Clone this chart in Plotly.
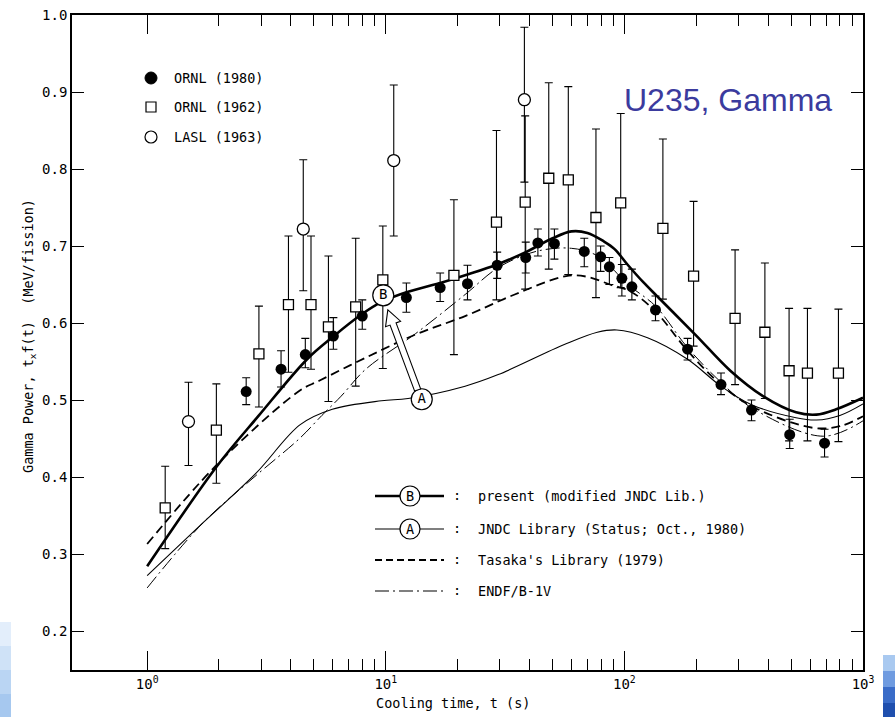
import math
import plotly.graph_objects as go

# ---------------- data ----------------
# ORNL (1980) - filled circles
ornl80_t = [2.60, 3.64, 4.60, 6.03, 7.97, 12.2, 16.9, 22.0, 29.3, 38.6, 43.4, 50.9,
            67.9, 79.5, 86.5, 97.6, 107.5, 135, 184, 254, 341, 493, 690]
ornl80_v = [0.511, 0.540, 0.559, 0.583, 0.609, 0.633, 0.646, 0.651, 0.675, 0.685, 0.704, 0.703,
            0.693, 0.686, 0.673, 0.658, 0.647, 0.617, 0.566, 0.520, 0.487, 0.455, 0.444]
ornl80_hi = [0.529, 0.564, 0.580, 0.607, 0.630, 0.652, 0.665, 0.675, 0.692, 0.705, 0.722, 0.722,
             0.710, 0.700, 0.685, 0.676, 0.670, 0.635, 0.580, 0.535, 0.500, 0.475, 0.462]
ornl80_lo = [0.494, 0.517, 0.542, 0.566, 0.592, 0.614, 0.628, 0.630, 0.658, 0.665, 0.687, 0.683,
             0.673, 0.667, 0.650, 0.635, 0.630, 0.603, 0.552, 0.507, 0.473, 0.437, 0.426]

# ORNL (1962) - open squares
ornl62_t = [1.19, 1.95, 2.94, 3.91, 4.86, 5.75, 7.48, 9.72, 19.3, 29.1, 38.4, 48.2,
            58.2, 76.0, 96.5, 145, 195, 291, 388, 490, 585, 789]
ornl62_v = [0.360, 0.461, 0.560, 0.624, 0.624, 0.595, 0.621, 0.656, 0.662, 0.731, 0.757, 0.788,
            0.786, 0.737, 0.756, 0.723, 0.661, 0.606, 0.588, 0.538, 0.535, 0.535]
ornl62_hi = [0.414, 0.521, 0.622, 0.713, 0.713, 0.687, 0.710, 0.726, 0.760, 0.850, 0.869, 0.912,
             0.907, 0.852, 0.872, 0.839, 0.758, 0.695, 0.678, 0.619, 0.619, 0.618]
ornl62_lo = [0.307, 0.392, 0.491, 0.536, 0.540, 0.498, 0.518, 0.541, 0.559, 0.630, 0.644, 0.670,
             0.663, 0.633, 0.646, 0.631, 0.570, 0.520, 0.502, 0.447, 0.447, 0.446]

# LASL (1963) - open circles
lasl_t = [1.49, 4.51, 10.8, 38.1]
lasl_v = [0.472, 0.722, 0.811, 0.890]
lasl_hi = [0.523, 0.812, 0.909, 0.984]
lasl_lo = [0.415, 0.642, 0.713, 0.783]

# (B) present (modified JNDC Lib.)
curveB_t = [1, 1.96, 2.94, 4.68, 6.0, 7.9, 9.7, 12.2, 16.9, 22, 29.3, 38.6, 50, 60, 70, 82,
            91, 103, 120, 137, 160, 201, 278, 381, 524, 638, 772, 1000]
curveB_v = [0.284, 0.414, 0.480, 0.553, 0.582, 0.611, 0.628, 0.640, 0.652, 0.663, 0.676, 0.692,
            0.710, 0.719, 0.717, 0.706, 0.696, 0.676, 0.653, 0.635, 0.614, 0.583, 0.538, 0.505,
            0.484, 0.481, 0.488, 0.503]

# (A) JNDC Library (Status; Oct., 1980)
curveA_t = [1, 1.72, 2.86, 4.38, 5.97, 9.6, 12.4, 21.5, 29.6, 56, 77, 93, 125, 184, 254, 341,
            524, 638, 800, 1000]
curveA_v = [0.272, 0.341, 0.405, 0.468, 0.488, 0.499, 0.502, 0.518, 0.533, 0.572, 0.588, 0.591,
            0.581, 0.553, 0.518, 0.494, 0.477, 0.474, 0.480, 0.495]

# Tasaka's Library (1979)
tasaka_t = [1, 1.96, 4.35, 5.26, 8.24, 13.3, 21.5, 34.7, 57, 70, 87, 106, 135, 184, 254, 341,
            614, 800, 1000]
tasaka_v = [0.313, 0.416, 0.512, 0.525, 0.555, 0.585, 0.609, 0.637, 0.661, 0.660, 0.650, 0.641,
            0.615, 0.564, 0.520, 0.492, 0.464, 0.466, 0.479]

# ENDF/B-IV
endf_t = [1, 1.72, 2.86, 4.35, 5.4, 6.5, 8.24, 13.3, 21.5, 29.6, 40.5, 50.9, 60, 67.9, 79.5,
          97.6, 107.5, 135, 184, 254, 341, 680, 1000]
endf_v = [0.256, 0.341, 0.402, 0.450, 0.480, 0.505, 0.540, 0.586, 0.637, 0.672, 0.691, 0.697,
          0.697, 0.694, 0.685, 0.658, 0.646, 0.622, 0.568, 0.523, 0.490, 0.453, 0.473]

# labels
x_tick_vals = [1, 10, 100, 1000]
x_tick_text = ["10<sup>0</sup>", "10<sup>1</sup>", "10<sup>2</sup>", "10<sup>3</sup>"]
y_tick_vals = [0.2, 0.3, 0.4, 0.5, 0.6, 0.7, 0.8, 0.9, 1.0]
y_tick_text = ["0.2", "0.3", "0.4", "0.5", "0.6", "0.7", "0.8", "0.9", "1.0"]
minor_x_vals = [m * 10 ** k for k in range(0, 3) for m in range(2, 10)]
marker_legend = ["ORNL (1980)", "ORNL (1962)", "LASL (1963)"]
curve_legend = ["present (modified JNDC Lib.)", "JNDC Library (Status; Oct., 1980)",
                "Tasaka's Library (1979)", "ENDF/B-1V"]
label_B_pos = (9.76, 0.636)
label_A_pos = (14.15, 0.501)
arrow_tip = (10.2, 0.617)
arrow_tail = (13.6, 0.513)

# ---------------- layout geometry ----------------
W, H = 895, 717
L, R, T, B = 72, 32, 15, 47
PW, PH = W - L - R, H - T - B
XR = [-0.315, 3.0]
YR = [0.1494, 1.0]
MONO = "DejaVu Sans Mono"


def px_x(t):
    return L + (math.log10(t) - XR[0]) / (XR[1] - XR[0]) * PW


def px_y(v):
    return T + PH - (v - YR[0]) / (YR[1] - YR[0]) * PH


def paper_x(px):
    return (px - L) / PW


def paper_y(py):
    return (T + PH - py) / PH


fig = go.Figure()

# curves
fig.add_trace(go.Scatter(x=curveA_t, y=curveA_v, mode="lines", line=dict(color="black", width=1.1, shape="spline", smoothing=1.0), hoverinfo="skip"))
fig.add_trace(go.Scatter(x=tasaka_t, y=tasaka_v, mode="lines", line=dict(color="black", width=1.8, dash="9px,5px", shape="spline", smoothing=1.0), hoverinfo="skip"))
fig.add_trace(go.Scatter(x=endf_t, y=endf_v, mode="lines", line=dict(color="black", width=1.0, dash="14px,4px,2px,4px", shape="spline", smoothing=1.0), hoverinfo="skip"))
fig.add_trace(go.Scatter(x=curveB_t, y=curveB_v, mode="lines", line=dict(color="black", width=2.6, shape="spline", smoothing=1.0), hoverinfo="skip"))


def err(v, hi, lo):
    return dict(type="data", symmetric=False,
                array=[h - a for a, h in zip(v, hi)],
                arrayminus=[a - l for a, l in zip(v, lo)],
                color="black", thickness=1.1, width=4)


fig.add_trace(go.Scatter(x=ornl62_t, y=ornl62_v, mode="markers", error_y=err(ornl62_v, ornl62_hi, ornl62_lo),
                         marker=dict(symbol="square", size=10, color="white", line=dict(color="black", width=1.3))))
fig.add_trace(go.Scatter(x=lasl_t, y=lasl_v, mode="markers", error_y=err(lasl_v, lasl_hi, lasl_lo),
                         marker=dict(symbol="circle", size=12, color="white", line=dict(color="black", width=1.3))))
fig.add_trace(go.Scatter(x=ornl80_t, y=ornl80_v, mode="markers", error_y=err(ornl80_v, ornl80_hi, ornl80_lo),
                         marker=dict(symbol="circle", size=11, color="black", line=dict(color="black", width=0))))

shapes = []

# hollow arrow from A to B
tx, ty = px_x(arrow_tip[0]), px_y(arrow_tip[1])
sx, sy = px_x(arrow_tail[0]), px_y(arrow_tail[1])
dx, dy = tx - sx, ty - sy
ln = math.hypot(dx, dy)
ux, uy = dx / ln, dy / ln
nx, ny = -uy, ux
hw, hh, hl = 3.2, 8.0, 15.0
bx, by = tx - ux * hl, ty - uy * hl
pts = [(sx + nx * hw, sy + ny * hw), (bx + nx * hw, by + ny * hw), (bx + nx * hh, by + ny * hh),
       (tx, ty), (bx - nx * hh, by - ny * hh), (bx - nx * hw, by - ny * hw), (sx - nx * hw, sy - ny * hw)]
path = "M " + " L ".join(f"{paper_x(a):.5f},{paper_y(b):.5f}" for a, b in pts) + " Z"
shapes.append(dict(type="path", path=path, xref="paper", yref="paper", fillcolor="white",
                   line=dict(color="black", width=1.1), layer="above"))

# circled B / A labels on the chart
fig.add_trace(go.Scatter(x=[label_B_pos[0], label_A_pos[0]], y=[label_B_pos[1], label_A_pos[1]],
                         mode="markers+text", text=["B", "A"], textposition="middle center",
                         textfont=dict(family=MONO, size=14, color="black"),
                         marker=dict(symbol="circle", size=21, color="white", line=dict(color="black", width=1.2)),
                         hoverinfo="skip"))

annotations = []


def text_at(px, py, s, size=13.5, anchor="left", family=MONO, color="black", angle=0):
    annotations.append(dict(x=paper_x(px), y=paper_y(py), xref="paper", yref="paper", text=s,
                            showarrow=False, xanchor=anchor, yanchor="middle", textangle=angle,
                            font=dict(family=family, size=size, color=color)))


# top-left marker legend
rows = [78, 107, 137]
r = 6
shapes.append(dict(type="circle", xref="paper", yref="paper", x0=paper_x(151 - r), x1=paper_x(151 + r),
                   y0=paper_y(rows[0] + r), y1=paper_y(rows[0] - r), fillcolor="black", line=dict(color="black", width=1)))
shapes.append(dict(type="rect", xref="paper", yref="paper", x0=paper_x(146), x1=paper_x(156),
                   y0=paper_y(rows[1] + 5), y1=paper_y(rows[1] - 5), fillcolor="white", line=dict(color="black", width=1.2)))
shapes.append(dict(type="circle", xref="paper", yref="paper", x0=paper_x(151 - r), x1=paper_x(151 + r),
                   y0=paper_y(rows[2] + r), y1=paper_y(rows[2] - r), fillcolor="white", line=dict(color="black", width=1.2)))
for yy, s in zip(rows, marker_legend):
    text_at(172, yy, s)

# bottom curve legend
lrows = [496, 529, 560, 591]
styles = [dict(width=2.6), dict(width=1.1), dict(width=1.8, dash="7px,4px"), dict(width=1.2, dash="14px,4px,2px,4px")]
for i, (yy, s, st) in enumerate(zip(lrows, curve_legend, styles)):
    shapes.append(dict(type="line", xref="paper", yref="paper", x0=paper_x(375), x1=paper_x(444),
                       y0=paper_y(yy), y1=paper_y(yy), line=dict(color="black", **st)))
    if i < 2:
        shapes.append(dict(type="circle", xref="paper", yref="paper", x0=paper_x(400), x1=paper_x(420),
                           y0=paper_y(yy + 10), y1=paper_y(yy - 10), fillcolor="white",
                           line=dict(color="black", width=1.2)))
        text_at(410, yy, "B" if i == 0 else "A", anchor="center")
    text_at(457, yy - 1, ":", anchor="center")
    text_at(476, yy, s)

# title
text_at(728, 100, "U235, Gamma", size=32, anchor="center", family="Liberation Sans", color="#3b3b9e")

# axis titles
text_at(453, 703, "Cooling time, t (s)", anchor="center")
text_at(29, 336, "Gamma Power, t<sub>x</sub>f(t)\u00a0\u00a0(MeV/fission)", anchor="center", angle=-90)

# blue slide corner artefacts
for i, c in enumerate(["#e3eefb", "#cfe2f7", "#bad5f3", "#a6c8ef"]):
    shapes.append(dict(type="rect", xref="paper", yref="paper", x0=paper_x(0), x1=paper_x(11),
                       y0=paper_y(622 + (i + 1) * 24), y1=paper_y(622 + i * 24), fillcolor=c,
                       line=dict(width=0), layer="below"))
for i, c in enumerate(["#a9c9f0", "#6f9be0", "#3a6cc8", "#1f4fae"]):
    shapes.append(dict(type="rect", xref="paper", yref="paper", x0=paper_x(883), x1=paper_x(895),
                       y0=paper_y(655 + (i + 1) * 16), y1=paper_y(655 + i * 16), fillcolor=c,
                       line=dict(width=0), layer="below"))

axis_common = dict(showline=True, linecolor="black", linewidth=1.6, mirror="ticks", ticks="inside",
                   tickcolor="black", tickwidth=1.3, showgrid=False, zeroline=False, automargin=False,
                   tickfont=dict(family=MONO, size=14, color="black"))

fig.update_layout(
    width=W, height=H,
    margin=dict(l=L, r=R, t=T, b=B, autoexpand=False),
    paper_bgcolor="white", plot_bgcolor="white",
    showlegend=False,
    xaxis=dict(type="log", range=XR, tickvals=x_tick_vals, ticktext=x_tick_text, ticklen=19,
               minor=dict(tickvals=minor_x_vals, ticks="inside", ticklen=11, tickcolor="black", tickwidth=1.2),
               **axis_common),
    yaxis=dict(range=YR, tickvals=y_tick_vals, ticktext=y_tick_text, ticklen=12, **axis_common),
    shapes=shapes,
    annotations=annotations,
)

fig.write_html("out.html", config={"displayModeBar": False},
               post_script="document.body.style.margin='0';document.body.style.overflow='hidden';")
